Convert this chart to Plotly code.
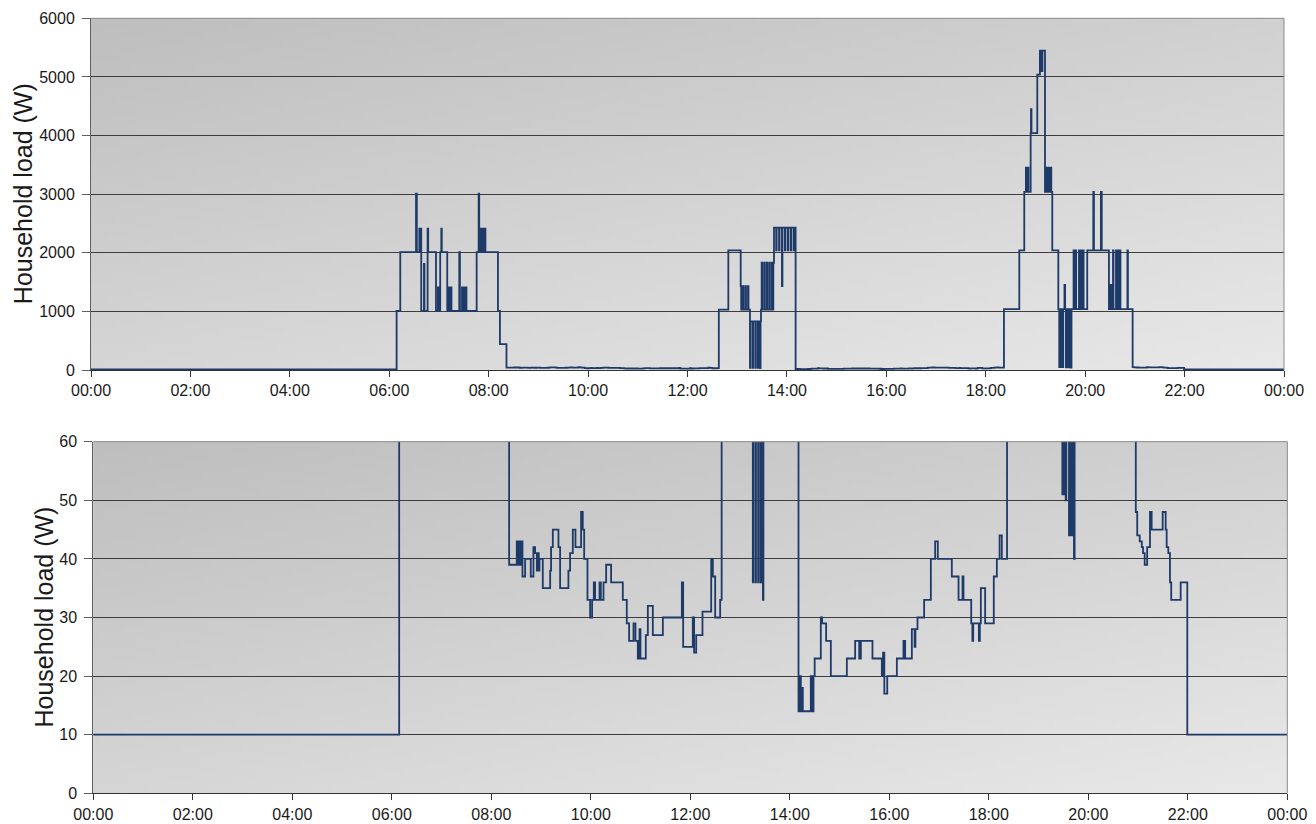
import base64
import struct
import zlib

import plotly.graph_objects as go

# Household load profile over one day, as (minute of day, watts) breakpoints.
# The load holds each value until the next breakpoint.
night = [(0, 10)]

morning = [
    (368.9, 1010), (373.3, 2010), (392.3, 3010), (393.3, 2010),
    (396.3, 2410), (396.9, 2010), (398.0, 2410), (398.6, 1010),
    (401.9, 1810), (402.5, 1010), (406.3, 2410), (407.0, 2010),
    (416.4, 1010), (418.8, 1410), (419.4, 1010), (421.5, 2010),
    (422.8, 2410), (423.4, 2010), (430.0, 1010), (432.1, 1410),
    (432.7, 1010), (434.5, 1410), (435.1, 1010), (444.5, 2010),
    (445.3, 1010), (447.8, 1410), (448.4, 1010), (450.2, 1410),
    (450.8, 1010), (452.6, 1410), (453.2, 1010), (465.5, 2010),
    (467.9, 3010), (468.6, 2010), (470.3, 2410), (470.9, 2010),
    (472.7, 2410), (473.3, 2010), (475.5, 2410), (476.1, 2010),
    (491.2, 1010), (493.6, 440),
]

late_morning = [
    (501.5, 39), (510.7, 43), (512.3, 39), (513.1, 43), (514.8, 39), (515.6, 43),
    (517.6, 37), (520.8, 40), (527.6, 37), (530.8, 42), (532.8, 41), (534.9, 38),
    (536.1, 41), (537.3, 38), (538.1, 40), (542.1, 35), (551.0, 38), (552.1, 42),
    (554.2, 45), (561.0, 42), (563.0, 35), (573.0, 38), (575.0, 41), (578.3, 45),
    (581.5, 42), (588.3, 48), (590.3, 45), (592.0, 40), (596.0, 33), (599.2, 30),
    (601.6, 33), (603.6, 36), (605.2, 33), (610.5, 36), (612.1, 33), (615.3, 36),
    (618.5, 39), (624.5, 36), (638.6, 33), (643.4, 29), (646.2, 26), (651.5, 29),
    (653.9, 26), (656.7, 23), (658.7, 28), (659.9, 23), (666.3, 27), (668.8, 32),
    (674.8, 27), (686.9, 30), (709.8, 36), (711.4, 25), (723.0, 30), (724.6, 24),
    (727.1, 27), (734.7, 31), (745.2, 40), (747.2, 37), (750.0, 30), (756.0, 33),
]

midday = [
    (757.8, 1030), (769.3, 2040), (784.2, 1430), (784.8, 1030), (787.0, 1430),
    (787.6, 1030), (790.0, 1430), (790.6, 1030), (793.0, 1430), (793.6, 1030),
    (795.4, 36), (796.0, 830), (798.6, 36), (799.2, 830), (801.8, 36),
    (802.4, 830), (804.8, 36), (805.4, 830), (807.6, 33), (808.2, 830),
    (808.7, 1030), (809.5, 1830), (810.1, 1030), (812.5, 1830), (813.1, 1030),
    (815.5, 1830), (816.1, 1030), (818.5, 1830), (819.1, 1030), (821.5, 1830),
    (822.1, 1030), (823.6, 1830), (824.4, 2430), (827.0, 2040), (827.6, 2430),
    (830.5, 2040), (831.1, 2430), (834.0, 1430), (834.6, 2430), (837.5, 2040),
    (838.1, 2430), (841.0, 2040), (841.6, 2430), (844.5, 2040), (845.1, 2430),
    (848.0, 2040), (848.6, 2430),
]

afternoon = [
    (850.5, 14), (851.7, 20), (853.3, 14), (854.5, 18), (855.7, 14), (865.3, 20),
    (867.0, 14), (868.6, 20), (870.0, 23), (877.4, 30), (879.0, 29), (883.8, 26),
    (889.5, 20), (908.8, 23), (918.8, 26), (923.7, 23), (925.7, 26), (939.7, 23),
    (951.0, 20), (952.5, 24), (954.0, 17), (957.5, 20), (969.1, 23), (977.1, 26),
    (979.1, 23), (987.2, 28), (990.5, 25), (991.5, 28), (994.0, 30), (1002.0, 33),
    (1010.1, 40), (1015.3, 43), (1018.5, 40), (1035.4, 37), (1043.5, 33),
    (1048.3, 37), (1049.5, 33), (1058.8, 29), (1060.2, 26), (1061.2, 29),
    (1068.0, 26), (1069.2, 29), (1070.4, 35), (1075.6, 29), (1086.0, 37),
    (1089.7, 40), (1093.0, 44), (1095.7, 40),
]

evening = [
    (1102.0, 1040), (1120.5, 2040), (1126.5, 3040), (1128.5, 3450), (1129.1, 3040),
    (1131.0, 3450), (1131.6, 3040), (1134.2, 4040), (1134.6, 4450), (1135.2, 4040),
    (1142.2, 5040), (1145.4, 5450), (1147.6, 5100), (1148.4, 5450), (1151.5, 3040),
    (1153.5, 3450), (1154.1, 3040), (1156.0, 3450), (1156.6, 3040), (1158.5, 3450),
    (1159.1, 3040), (1160.3, 2040), (1167.6, 1040), (1168.7, 51), (1169.3, 1040),
    (1170.7, 51), (1171.3, 1040), (1172.7, 50), (1173.5, 1040), (1175.0, 1450),
    (1175.8, 1040), (1176.7, 44), (1177.5, 1040), (1178.0, 44), (1178.8, 1040),
    (1179.3, 44), (1180.1, 1040), (1180.6, 44), (1181.4, 1040), (1181.9, 44),
    (1182.7, 40), (1183.5, 1040), (1186.0, 2040), (1186.6, 1040), (1188.5, 2040),
    (1189.1, 1040), (1192.5, 2040), (1193.1, 1040), (1195.0, 2040), (1195.6, 1040),
    (1197.5, 2040), (1198.1, 1040), (1202.5, 2040), (1209.8, 3040), (1210.6, 2040),
    (1219.0, 3040), (1220.0, 2040), (1228.7, 1040), (1230.0, 1450), (1230.6, 1040),
    (1232.0, 1450), (1232.6, 1040), (1233.6, 2040), (1234.2, 1040), (1237.2, 2040),
    (1237.8, 1040), (1238.8, 2040), (1239.4, 1040), (1240.4, 2040), (1241.0, 1040),
    (1242.0, 2040), (1242.6, 1040), (1251.0, 2040), (1251.6, 1040),
]

late_evening = [
    (1257.3, 48), (1259.0, 44), (1262.0, 43), (1264.5, 42), (1266.0, 41),
    (1268.0, 39), (1271.0, 42), (1274.4, 48), (1276.4, 45), (1289.7, 48),
    (1293.3, 45), (1294.5, 42), (1296.5, 41), (1298.5, 36), (1300.0, 33),
    (1311.4, 36), (1319.4, 10), (1440.0, 10),
]

tick_minutes = list(range(0, 1441, 120))
tick_labels = ["00:00", "02:00", "04:00", "06:00", "08:00", "10:00", "12:00",
               "14:00", "16:00", "18:00", "20:00", "22:00", "00:00"]
top_ticks = [0, 1000, 2000, 3000, 4000, 5000, 6000]
bottom_ticks = [0, 10, 20, 30, 40, 50, 60]

profile = night + morning + late_morning + midday + afternoon + evening + late_evening
minutes = [m for m, _ in profile]
watts = [w for _, w in profile]

W, H = 1316, 824
LINE = "#1e3a68"
FONT = "Liberation Sans, Arial, sans-serif"


def gradient_png(w, h, dark, light, wu, wv):
    """Grey diagonal gradient (dark top-left to light bottom-right) as PNG data URI."""
    raw = bytearray()
    for j in range(h):
        raw.append(0)
        for i in range(w):
            t = wu * i / (w - 1) + wv * j / (h - 1)
            raw.append(int(round(dark + (light - dark) * t)))

    def chunk(kind, data):
        body = kind + data
        return struct.pack(">I", len(data)) + body + struct.pack(">I", zlib.crc32(body) & 0xFFFFFFFF)

    png = b"\x89PNG\r\n\x1a\n"
    png += chunk(b"IHDR", struct.pack(">IIBBBBB", w, h, 8, 0, 0, 0, 0))
    png += chunk(b"IDAT", zlib.compress(bytes(raw), 9))
    png += chunk(b"IEND", b"")
    return "data:image/png;base64," + base64.b64encode(png).decode()


bg = gradient_png(256, 64, 190, 232, 0.45, 0.55)

# pixel boxes of the two plot areas: (left, top, right, bottom)
top_box = (91, 18.3, 1284, 370)
bot_box = (93.3, 441.7, 1287.3, 793.3)


def xdom(b):
    return [b[0] / W, b[2] / W]


def ydom(b):
    return [1 - b[3] / H, 1 - b[1] / H]


fig = go.Figure()
for xa, ya in (("x", "y"), ("x2", "y2")):
    fig.add_trace(go.Scatter(
        x=minutes, y=watts, xaxis=xa, yaxis=ya, mode="lines",
        line=dict(color=LINE, width=1.8, shape="hv"),
        showlegend=False, hoverinfo="skip",
    ))

axis_font = dict(family=FONT, size=16, color="#1a1a1a")
common_x = dict(
    range=[0, 1440], tickmode="array", tickvals=tick_minutes, ticktext=tick_labels,
    showgrid=False, zeroline=False, showline=True, linecolor="#333333", linewidth=1,
    ticks="outside", ticklen=6, tickcolor="#333333", tickfont=axis_font,
    automargin=False,
)
common_y = dict(
    showgrid=True, gridcolor="#3d3d3d", gridwidth=1, zeroline=False,
    showline=True, linecolor="#606060", linewidth=1,
    ticks="outside", ticklen=8, tickcolor="#606060", tickfont=axis_font,
    ticklabelstandoff=4, automargin=False,
)

fig.update_layout(
    width=W, height=H,
    margin=dict(l=0, r=0, t=0, b=0, autoexpand=False),
    paper_bgcolor="white", plot_bgcolor="#d2d2d2",
    xaxis=dict(domain=xdom(top_box), anchor="y", **common_x),
    yaxis=dict(domain=ydom(top_box), anchor="x", range=[0, 6000],
               tickmode="array", tickvals=top_ticks, **common_y),
    xaxis2=dict(domain=xdom(bot_box), anchor="y2", **common_x),
    yaxis2=dict(domain=ydom(bot_box), anchor="x2", range=[0, 60],
                tickmode="array", tickvals=bottom_ticks, **common_y),
    font=dict(family=FONT),
)

images = []
shapes = []
for b, xr, yr in ((top_box, "x", "y"), (bot_box, "x2", "y2")):
    xd, yd = xdom(b), ydom(b)
    images.append(dict(
        source=bg, xref="paper", yref="paper", x=xd[0], y=yd[1],
        sizex=xd[1] - xd[0], sizey=yd[1] - yd[0], sizing="stretch",
        xanchor="left", yanchor="top", layer="below",
    ))
    # light frame on the top and right edges of the plot area
    shapes.append(dict(type="line", xref=f"{xr} domain", yref=f"{yr} domain",
                       x0=0, x1=1, y0=1, y1=1, line=dict(color="#8c8c8c", width=1)))
    shapes.append(dict(type="line", xref=f"{xr} domain", yref=f"{yr} domain",
                       x0=1, x1=1, y0=0, y1=1, line=dict(color="#8c8c8c", width=1)))
fig.update_layout(images=images, shapes=shapes)

# rotated axis titles
for b, xc in ((top_box, 23), (bot_box, 43)):
    yd = ydom(b)
    fig.add_annotation(
        text="Household load (W)", textangle=-90, showarrow=False,
        xref="paper", yref="paper", x=xc / W, y=(yd[0] + yd[1]) / 2,
        xanchor="center", yanchor="middle",
        font=dict(family=FONT, size=25, color="#1a1a1a"),
    )

fig.write_html("out.html")
